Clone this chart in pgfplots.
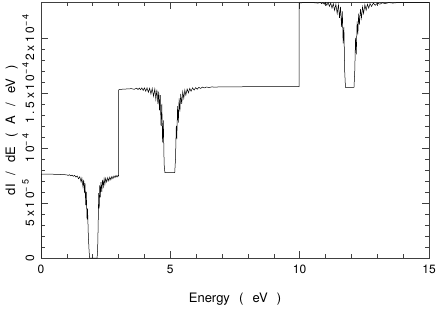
\documentclass[border=0pt]{standalone}
\usepackage{fontspec}
\setmainfont{TeX Gyre Heros}
\newfontfamily\ytickfont[LetterSpace=22]{TeX Gyre Heros}
\newcommand\sups[1]{\raisebox{0.45em}{\fontsize{9}{9}\selectfont #1}}
\usepackage{pgfplots}
\pgfplotsset{compat=1.18}
\begin{document}
\begin{tikzpicture}
\useasboundingbox (0,0) rectangle (436pt,308pt);
\begin{axis}[
  at={(41pt,50pt)}, anchor=south west,
  scale only axis, width=388pt, height=256pt,
  xmin=0, xmax=15, ymin=0, ymax=23.25,
  xtick={0,5,10,15}, xticklabels={0,5,10,15},
  minor x tick num=4,
  ytick={0,5,10,15,20},
  yticklabels={0, 5x10\sups{−5}, 10\sups{−4}, 1.5x10\sups{−4}, 2x10\sups{−4}},
  minor y tick num=4,
  tick align=inside, xtick pos=both, ytick pos=both,
  major tick length=7pt, minor tick length=4pt,
  axis line style={line width=0.5pt, black!75},
  every tick/.style={black!75, line width=0.5pt},
  xticklabel style={font=\fontsize{12}{14}\selectfont, anchor=north, inner sep=0pt},
  xticklabel shift=7pt,
  yticklabel style={font=\ytickfont\fontsize{12}{14}\selectfont, rotate=90, anchor=base, inner sep=0pt},
  yticklabel shift=7pt,
  xlabel={Energy\hspace{0.7em}(\hspace{0.7em}eV\hspace{0.7em})},
  ylabel={dI\hspace{0.7em}/\hspace{0.7em}dE\hspace{0.7em}(\hspace{0.7em}A\hspace{0.7em}/\hspace{0.7em}eV\hspace{0.7em})},
  label style={font=\fontsize{13}{15}\selectfont},
  xlabel style={at={(axis description cs:0.5,-0.172)}, anchor=base, inner sep=0pt},
  ylabel style={at={(axis description cs:-0.067,0.5)}, anchor=base, inner sep=0pt},
]
\addplot[black, line width=0.5pt, no marks] coordinates {
(0,0) (0,7.62) (0.2,7.62) (0.4,7.61) (0.6,7.60) (0.8,7.58) (0.9,7.57) (1.0,7.55)
(1.05,7.5) (1.1,7.56) (1.15,7.47) (1.2,7.53) (1.25,7.42) (1.3,7.5) (1.35,7.35) (1.4,7.45)
(1.45,7.2) (1.5,7.38) (1.55,6.9) (1.58,7.25) (1.62,6.5) (1.65,7.1) (1.68,5.9) (1.7,6.8)
(1.73,4.8) (1.75,6.0) (1.78,3.5) (1.8,4.5) (1.83,2.0) (1.86,0.6) (1.88,0)
(2.17,0) (2.19,0.8) (2.21,3.0) (2.23,5.9) (2.25,4.5) (2.27,6.6) (2.29,5.5) (2.32,6.9)
(2.35,6.0) (2.38,7.1) (2.41,6.5) (2.44,7.2) (2.47,6.7) (2.5,7.25) (2.54,6.9) (2.58,7.3)
(2.62,7.0) (2.66,7.35) (2.7,7.1) (2.74,7.4) (2.78,7.2) (2.82,7.45) (2.86,7.3) (2.9,7.5)
(2.94,7.35) (2.98,7.5) (3.0,7.45)
(3.0,15.25) (3.02,15.3) (3.1,15.32) (3.3,15.35) (3.5,15.38) (3.6,15.32) (3.7,15.42)
(3.75,15.3) (3.8,15.43) (3.85,15.28) (3.9,15.45) (3.95,15.22) (4.0,15.45) (4.05,15.15)
(4.1,15.45) (4.15,15.05) (4.2,15.42) (4.25,14.9) (4.3,15.4) (4.35,14.7) (4.4,15.35)
(4.44,14.4) (4.48,15.3) (4.52,14.0) (4.55,15.1) (4.58,13.4) (4.61,14.8) (4.64,12.0)
(4.67,14.0) (4.7,10.5) (4.73,12.5) (4.76,8.5) (4.79,7.75)
(5.17,7.75) (5.2,9.0) (5.23,12.0) (5.25,10.8) (5.28,13.8) (5.31,12.3) (5.34,14.5)
(5.37,13.3) (5.4,14.9) (5.44,14.0) (5.48,15.1) (5.52,14.5) (5.56,15.25) (5.6,14.8)
(5.65,15.35) (5.7,15.0) (5.75,15.4) (5.8,15.15) (5.86,15.45) (5.92,15.25) (5.98,15.48)
(6.04,15.33) (6.1,15.5) (6.17,15.4) (6.24,15.52) (6.31,15.45) (6.4,15.53) (6.5,15.48)
(6.6,15.54) (6.75,15.51) (6.9,15.55) (7.5,15.55) (8.5,15.56) (9.98,15.56)
(9.98,23.15) (10.05,23.18) (10.5,23.2) (10.7,23.15) (10.8,23.2) (10.85,23.1) (10.9,23.2)
(10.95,23.05) (11.0,23.2) (11.05,22.95) (11.1,23.2) (11.15,22.85) (11.2,23.15) (11.25,22.7)
(11.3,23.1) (11.35,22.5) (11.4,23.05) (11.45,22.2) (11.5,23.0) (11.54,21.8) (11.58,22.8)
(11.62,21.0) (11.65,22.4) (11.68,19.5) (11.71,21.0) (11.74,17.0) (11.77,15.5)
(12.1,15.5) (12.13,17.0) (12.16,20.0) (12.19,18.5) (12.22,21.5) (12.25,20.3) (12.28,22.2)
(12.31,21.2) (12.35,22.6) (12.39,21.8) (12.43,22.8) (12.47,22.2) (12.52,23.0) (12.57,22.5)
(12.62,23.05) (12.67,22.7) (12.72,23.1) (12.78,22.85) (12.85,23.15) (12.92,22.95)
(13.0,23.15) (13.1,23.05) (13.2,23.18) (13.3,23.1) (13.45,23.2) (13.6,23.15) (13.8,23.2)
(14.2,23.22) (15,23.22)
};
\end{axis}
\end{tikzpicture}
\end{document}
